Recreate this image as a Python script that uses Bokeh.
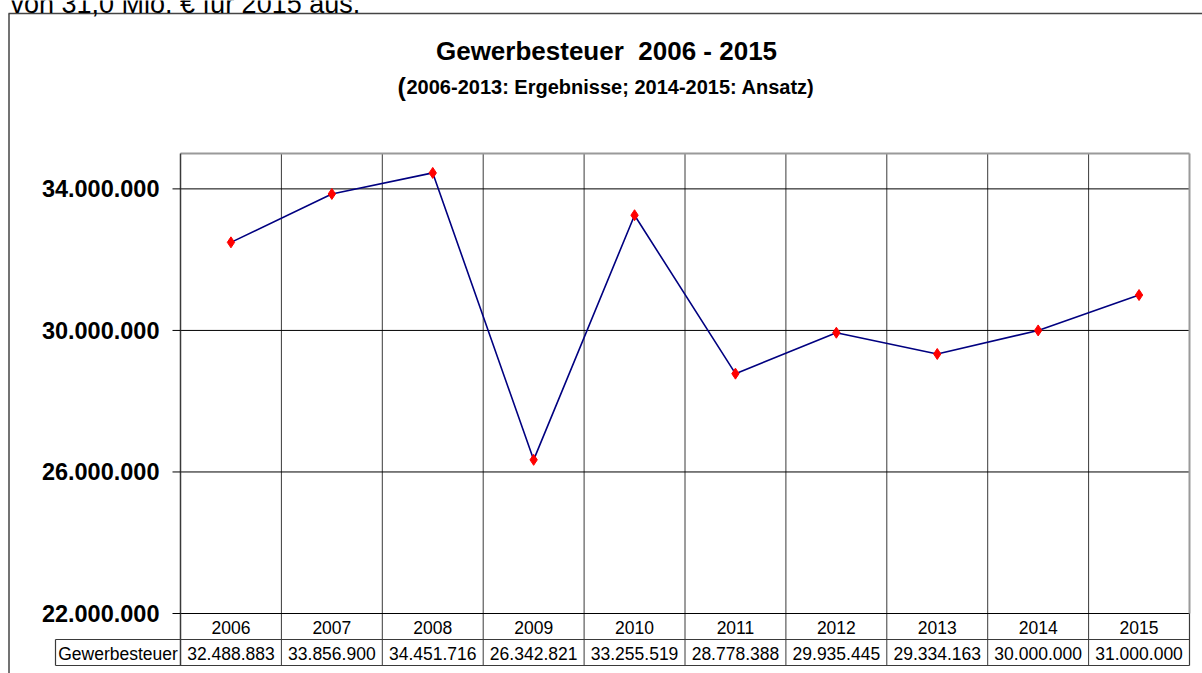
from bokeh.plotting import figure
from bokeh.models import Range1d
from bokeh.core.properties import value
from bokeh.embed import file_html
from bokeh.resources import INLINE

# ---- data ----
years = ["2006", "2007", "2008", "2009", "2010", "2011", "2012", "2013", "2014", "2015"]
gewerbesteuer = [32488883, 33856900, 34451716, 26342821, 33255519,
                 28778388, 29935445, 29334163, 30000000, 31000000]
y_ticks = [22000000, 26000000, 30000000, 34000000]
series_name = "Gewerbesteuer"
title_text = "Gewerbesteuer\u00a0 2006 - 2015"
subtitle_paren = "("
subtitle_text = "2006-2013: Ergebnisse; 2014-2015: Ansatz)"
top_text = "von 31,0 Mio. \u20ac f\u00fcr 2015 aus."

def de(v):
    return f"{v:,}".replace(",", ".")

# ---- layout (page pixels) ----
FIG_L, FIG_T, FIG_W, FIG_H = 0, 0, 1202, 673
FIG_R, FIG_B = FIG_L + FIG_W, FIG_T + FIG_H
PLOT_L, PLOT_R, PLOT_T = 180, 1189, 153
Y_MAX, Y_MIN = 35000000, 22000000
GRID_B = 613
ROW_MID, TABLE_B, LABEL_L = 639, 665, 55

n = len(years)
px_per_cat = (PLOT_R - PLOT_L) / n
px_per_val = (GRID_B - PLOT_T) / (Y_MAX - Y_MIN)
x0 = (FIG_L - PLOT_L) / px_per_cat
x1 = (FIG_R - PLOT_L) / px_per_cat
y1 = Y_MAX + (PLOT_T - FIG_T) / px_per_val
y0 = Y_MIN - (FIG_B - GRID_B) / px_per_val
y_table_b = Y_MIN - (TABLE_B - GRID_B) / px_per_val

p = figure(width=FIG_W, height=FIG_H, output_backend="svg", toolbar_location=None,
           x_range=Range1d(x0, x1), y_range=Range1d(y0, y1),
           x_axis_type=None, y_axis_type=None,
           min_border_left=0, min_border_right=0, min_border_top=0, min_border_bottom=0)
p.extra_x_ranges = {"px": Range1d(FIG_L, FIG_R)}
p.extra_y_ranges = {"px": Range1d(FIG_B, FIG_T)}
p.outline_line_color = None
p.background_fill_color = "white"
p.border_fill_color = "white"

FONT = value("Liberation Sans")
dark = "#3a3a3a"

# outer chart frame
p.segment(x0=[8.5, 8], y0=[13, 13], x1=[8.5, FIG_R], y1=[FIG_B, 13],
          x_range_name="px", y_range_name="px", line_color="#444444", line_width=1.5)

# top cut-off text (continuation of the page text above the chart)
p.text(x=[10], y=[3], text=[top_text], x_range_name="px", y_range_name="px",
       text_font=FONT, text_font_size=value("27px"), text_color="#000000",
       text_align="left", text_baseline="alphabetic")

# titles
p.text(x=[606], y=[50], text=[title_text], x_range_name="px", y_range_name="px",
       text_font=FONT, text_font_size=value("26px"), text_font_style="bold",
       text_color="#000000", text_align="center", text_baseline="middle")
p.text(x=[397], y=[86], text=[subtitle_paren], x_range_name="px", y_range_name="px",
       text_font=FONT, text_font_size=value("25px"), text_font_style="bold",
       text_color="#000000", text_align="left", text_baseline="middle")
p.text(x=[406], y=[86], text=[subtitle_text], x_range_name="px", y_range_name="px",
       text_font=FONT, text_font_size=value("20px"), text_font_style="bold",
       text_color="#000000", text_align="left", text_baseline="middle")

# vertical grid lines (category boundaries) through plot and table
bounds = list(range(n + 1))
p.segment(x0=bounds[1:-1], y0=[y_table_b] * (n - 1), x1=bounds[1:-1], y1=[Y_MAX] * (n - 1),
          line_color=dark, line_width=1)

# horizontal grid lines
p.segment(x0=[0] * len(y_ticks), y0=y_ticks, x1=[n] * len(y_ticks), y1=y_ticks,
          line_color="#000000", line_width=1)

# plot area border
p.segment(x0=[PLOT_L], y0=[PLOT_T], x1=[PLOT_R], y1=[PLOT_T],
          x_range_name="px", y_range_name="px", line_color="#9a9a9a", line_width=2)
p.segment(x0=[PLOT_R], y0=[PLOT_T], x1=[PLOT_R], y1=[GRID_B],
          x_range_name="px", y_range_name="px", line_color="#9a9a9a", line_width=2)
p.segment(x0=[PLOT_L], y0=[PLOT_T], x1=[PLOT_L], y1=[TABLE_B],
          x_range_name="px", y_range_name="px", line_color=dark, line_width=1.5)

# y tick marks and labels
p.segment(x0=[PLOT_L - 8] * len(y_ticks), y0=y_ticks, x1=[PLOT_L] * len(y_ticks), y1=y_ticks,
          x_range_name="px", line_color="#000000", line_width=1)
p.text(x=[159] * len(y_ticks), y=y_ticks, text=[de(t) for t in y_ticks], x_range_name="px",
       text_font=FONT, text_font_size=value("23.5px"), text_font_style="bold",
       text_color="#000000", text_align="right", text_baseline="middle")

# data table
p.segment(x0=[PLOT_R, LABEL_L, LABEL_L, LABEL_L], y0=[GRID_B, ROW_MID, TABLE_B, ROW_MID],
          x1=[PLOT_R, PLOT_R, PLOT_R, LABEL_L], y1=[TABLE_B, ROW_MID, TABLE_B, TABLE_B],
          x_range_name="px", y_range_name="px", line_color=dark, line_width=1.2)
centers = [i + 0.5 for i in range(n)]
p.text(x=centers, y=[(GRID_B + ROW_MID) / 2 + 1] * n, text=years, y_range_name="px",
       text_font=FONT, text_font_size=value("17.5px"), text_color="#000000",
       text_align="center", text_baseline="middle")
p.text(x=centers, y=[(ROW_MID + TABLE_B) / 2 + 1] * n, text=[de(v) for v in gewerbesteuer],
       y_range_name="px", text_font=FONT, text_font_size=value("17.5px"), text_color="#000000",
       text_align="center", text_baseline="middle")
p.text(x=[(LABEL_L + PLOT_L) / 2], y=[(ROW_MID + TABLE_B) / 2 + 1], text=[series_name],
       x_range_name="px", y_range_name="px", text_font=FONT, text_font_size=value("17.5px"),
       text_color="#000000", text_align="center", text_baseline="middle")

# series
p.line(x=centers, y=gewerbesteuer, line_color="#000080", line_width=1.6)
p.scatter(x=centers, y=gewerbesteuer, marker="diamond", size=11,
          fill_color="#ff0000", line_color="#ff0000")

open("out.html", "w").write(file_html(p, INLINE))
